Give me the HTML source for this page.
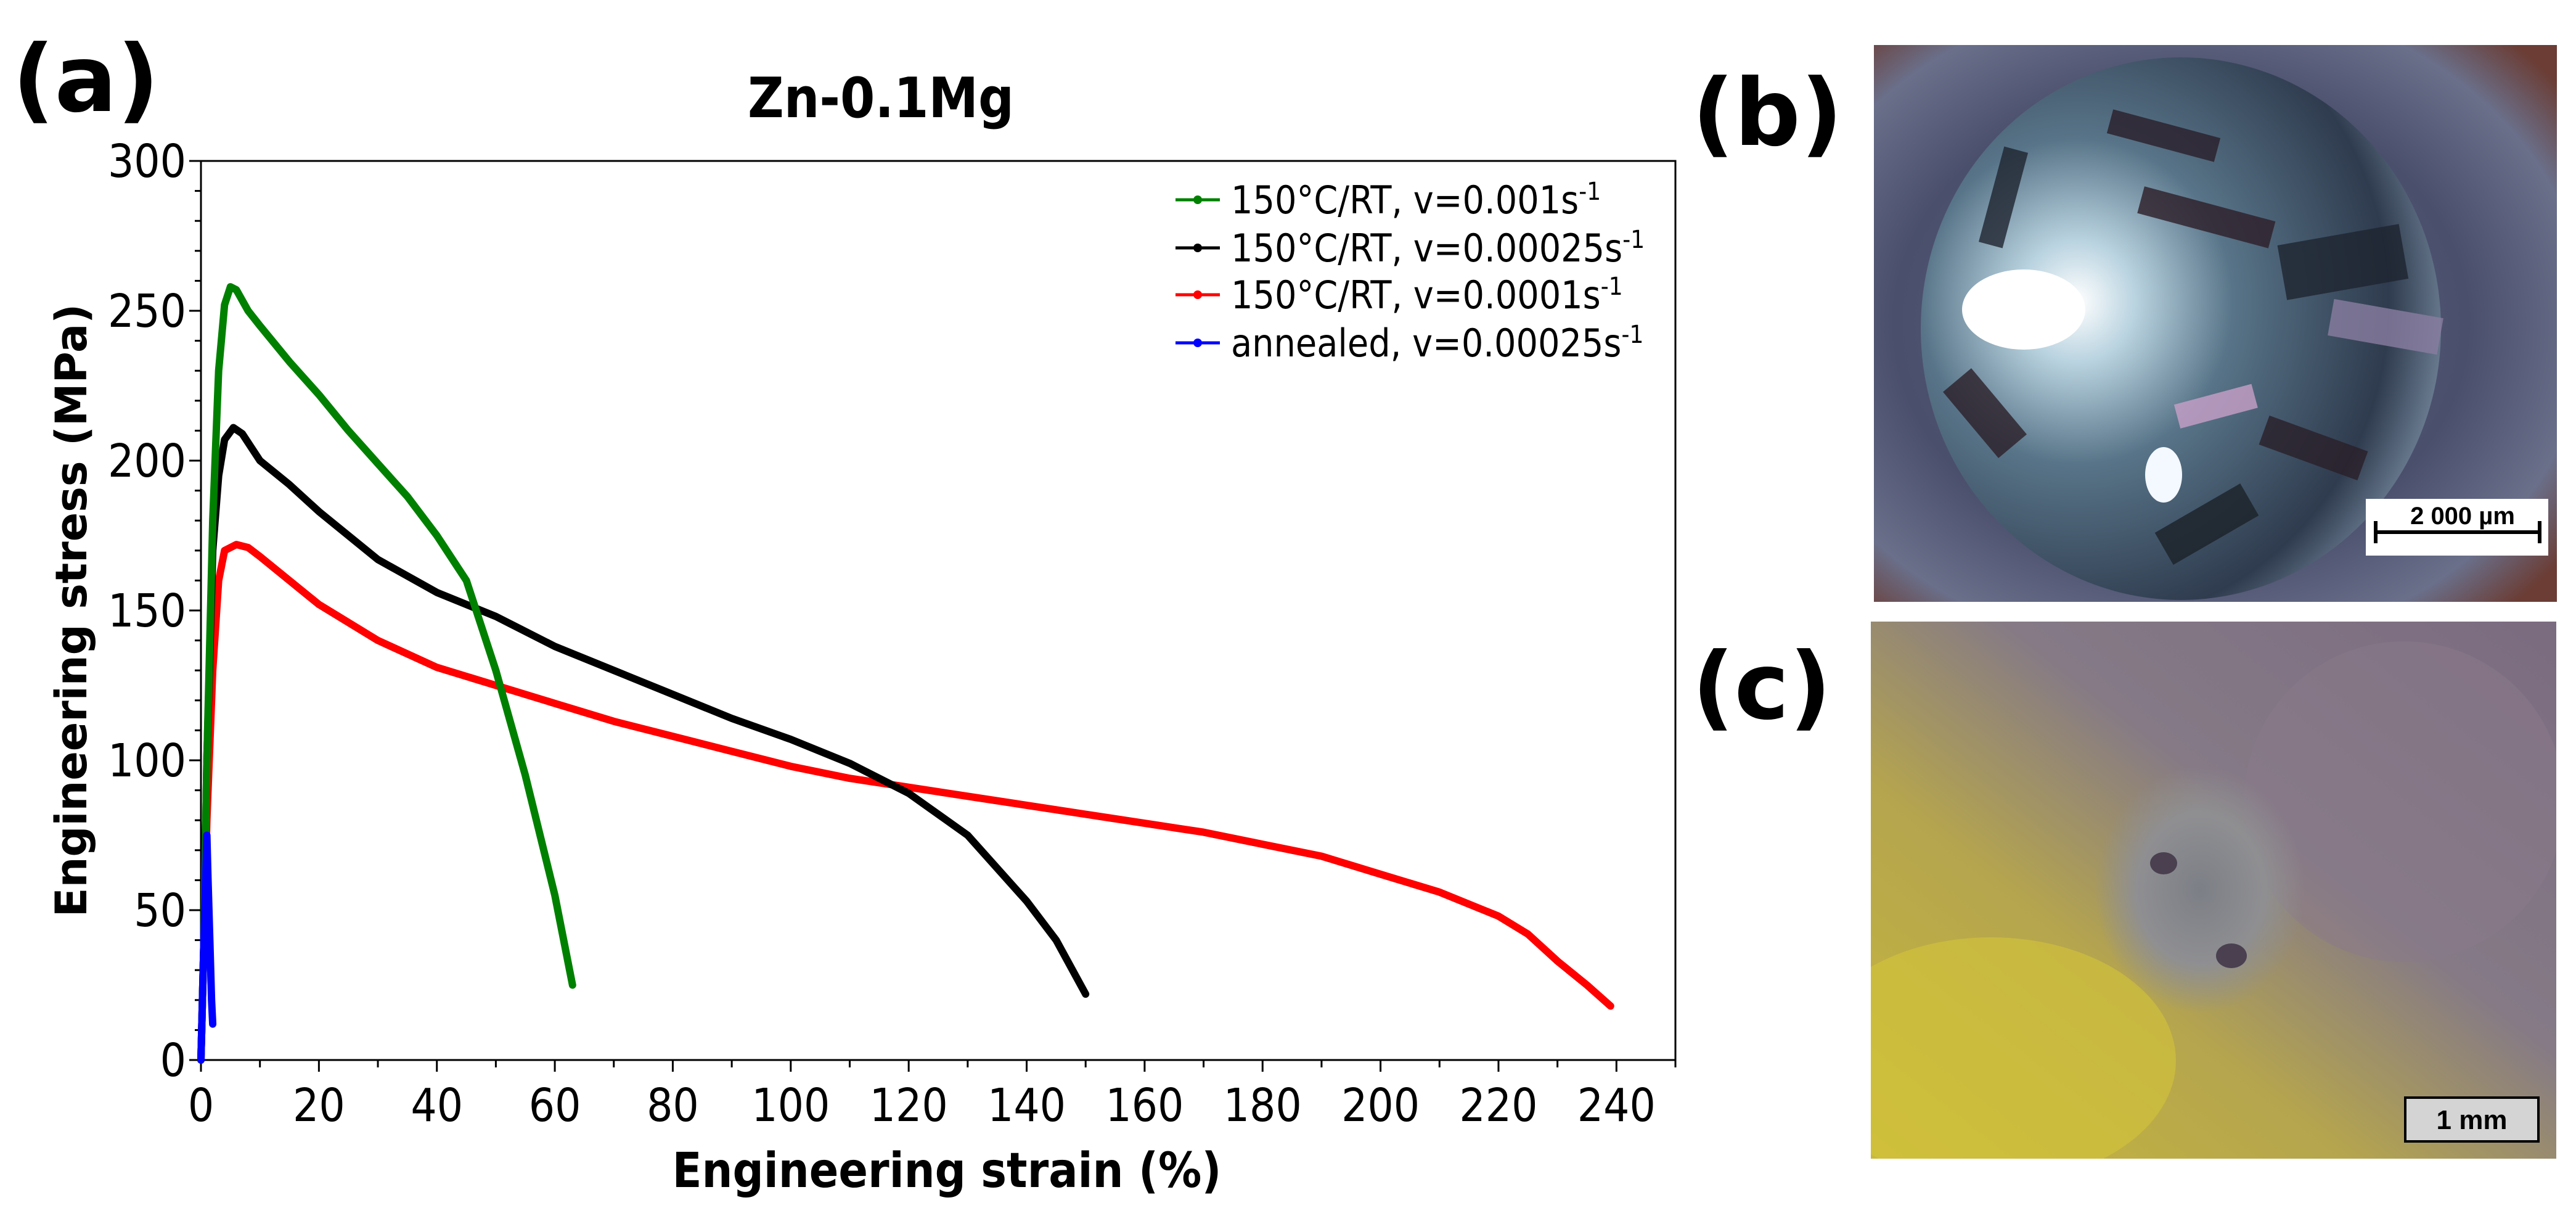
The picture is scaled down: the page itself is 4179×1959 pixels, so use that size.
<!DOCTYPE html>
<html><head><meta charset="utf-8">
<style>
html,body{margin:0;padding:0;background:#fff;}
body{width:4179px;height:1959px;position:relative;overflow:hidden;font-family:"Liberation Sans",sans-serif;}
svg{position:absolute;left:0;top:0;}
</style></head>
<body>
<svg id="fig" width="4179" height="1959" viewBox="0 0 4179 1959">
  <defs>
    <radialGradient id="bgB" cx="0.45" cy="0.5" r="0.7">
      <stop offset="0" stop-color="#5d6580"/>
      <stop offset="0.6" stop-color="#4a4f6c"/>
      <stop offset="0.85" stop-color="#6a6f8a"/>
      <stop offset="1" stop-color="#6b3d35"/>
    </radialGradient>
    <radialGradient id="discB" cx="0.3" cy="0.45" r="0.75">
      <stop offset="0" stop-color="#ffffff"/>
      <stop offset="0.15" stop-color="#b9d3e0"/>
      <stop offset="0.4" stop-color="#587488"/>
      <stop offset="0.8" stop-color="#2f3b4e"/>
      <stop offset="1" stop-color="#7f92a8"/>
    </radialGradient>
    <linearGradient id="bgC" x1="0" y1="1" x2="1" y2="0">
      <stop offset="0" stop-color="#c8b83a"/>
      <stop offset="0.35" stop-color="#b5a54e"/>
      <stop offset="0.6" stop-color="#857a86"/>
      <stop offset="1" stop-color="#7b6b80"/>
    </linearGradient>
    <radialGradient id="holeC" cx="0.5" cy="0.5" r="0.5">
      <stop offset="0" stop-color="#7c7f86"/>
      <stop offset="0.6" stop-color="#8f8f92"/>
      <stop offset="1" stop-color="#8f8f92" stop-opacity="0"/>
    </radialGradient>
    <clipPath id="clipC"><rect x="3035" y="1008" width="1112" height="871"/></clipPath>
    <clipPath id="clipB"><rect x="3040" y="73" width="1108" height="903"/></clipPath>
  </defs>
  <g id="chart"></g>

  <!-- panel b -->
  <text x="2745" y="235" font-size="150" font-weight="bold" font-family="DejaVu Sans, sans-serif">(b)</text>
  <g clip-path="url(#clipB)">
    <rect x="3040" y="73" width="1108" height="903" fill="url(#bgB)"/>
    <ellipse cx="3538" cy="533" rx="422" ry="440" fill="url(#discB)"/>
    <g opacity="0.8">
      <rect x="3420" y="200" width="180" height="40" fill="#2a1e2a" transform="rotate(15 3510 220)"/>
      <rect x="3470" y="330" width="220" height="45" fill="#2d1f28" transform="rotate(15 3580 350)"/>
      <rect x="3700" y="380" width="200" height="90" fill="#1e2530" transform="rotate(-10 3800 420)"/>
      <rect x="3780" y="500" width="180" height="60" fill="#8a7ea0" transform="rotate(10 3870 530)"/>
      <rect x="3150" y="640" width="140" height="60" fill="#2c2028" transform="rotate(50 3220 670)"/>
      <rect x="3670" y="700" width="170" height="50" fill="#2a2028" transform="rotate(20 3750 720)"/>
      <rect x="3500" y="820" width="160" height="60" fill="#1c2228" transform="rotate(-30 3580 850)"/>
      <rect x="3230" y="240" width="40" height="160" fill="#202530" transform="rotate(15 3250 320)"/>
      <rect x="3530" y="640" width="130" height="40" fill="#c9a0c8" transform="rotate(-15 3590 660)"/>
    </g>
    <ellipse cx="3283" cy="502" rx="100" ry="65" fill="#ffffff"/>
    <ellipse cx="3510" cy="770" rx="30" ry="45" fill="#f4f8ff"/>
    <rect x="3838" y="809" width="296" height="92" fill="#fff"/>
    <text x="3995" y="850" font-size="40" font-weight="bold" text-anchor="middle">2 000 µm</text>
    <path d="M3854 863 H4120 M3854 845 V881 M4120 845 V881" stroke="#000" stroke-width="6" fill="none"/>
  </g>

  <!-- panel c -->
  <text x="2745" y="1165" font-size="150" font-weight="bold" font-family="DejaVu Sans, sans-serif">(c)</text>
  <g clip-path="url(#clipC)">
    <rect x="3035" y="1008" width="1112" height="871" fill="url(#bgC)"/>
    <ellipse cx="3230" cy="1720" rx="300" ry="200" fill="#d4c43a" opacity="0.6"/>
    <ellipse cx="3900" cy="1300" rx="260" ry="260" fill="#8a7a8a" opacity="0.5"/>
    <ellipse cx="3569" cy="1443" rx="170" ry="200" fill="url(#holeC)"/>
    <ellipse cx="3510" cy="1400" rx="22" ry="18" fill="#4a4050"/>
    <ellipse cx="3620" cy="1550" rx="25" ry="20" fill="#4a4050"/>
    <rect x="3902" y="1780" width="216" height="71" fill="#d4d4d4" stroke="#000" stroke-width="4"/>
    <text x="4010" y="1831" font-size="44" font-weight="bold" text-anchor="middle">1 mm</text>
  </g>
</svg>
<script>
// ---- data ----
const xTicks = [0,20,40,60,80,100,120,140,160,180,200,220,240];
const yTicks = [0,50,100,150,200,250,300];
const seriesNames = ["150°C/RT, v=0.001s", "150°C/RT, v=0.00025s", "150°C/RT, v=0.0001s", "annealed, v=0.00025s"];
const greenX = [0,0.5,1,2,3,4,5,6,8,10,15,20,25,30,35,40,45,50,55,60,63];
const greenY = [0,40,100,180,230,252,258,257,250,245,233,222,210,199,188,175,160,130,95,55,25];
const blackX = [0,0.5,1,2,3,4,5.5,7,10,15,20,30,40,50,60,70,80,90,100,110,120,130,140,145,150];
const blackY = [0,40,100,170,195,207,211,209,200,192,183,167,156,148,138,130,122,114,107,99,89,75,53,40,22];
const redX = [0,0.5,1,2,3,4,6,8,10,20,30,40,50,60,70,80,90,100,110,120,130,140,150,160,170,180,190,200,210,220,225,230,235,239];
const redY = [0,40,80,130,160,170,172,171,168,152,140,131,125,119,113,108,103,98,94,91,88,85,82,79,76,72,68,62,56,48,42,33,25,18];
const blueX = [0,0.5,1,1.2,1.5,1.8,2];
const blueY = [0,40,75,60,40,20,12];

// ---- scales ----
const X0=326, X1=2718, Y0=1719, Y1=261, XMAX=250, YMAX=300;
const sx = v => X0 + v/XMAX*(X1-X0);
const sy = v => Y0 - v/YMAX*(Y0-Y1);
const NS="http://www.w3.org/2000/svg";
const g=document.getElementById('chart');
function mk(tag, attrs, parent){const e=document.createElementNS(NS,tag);for(const k in attrs)e.setAttribute(k,attrs[k]);(parent||g).appendChild(e);return e;}
const tickFont='"Liberation Sans Narrow","DejaVu Sans Condensed","Liberation Sans",sans-serif';

let t=mk('text',{x:20,y:180,'font-size':150,'font-weight':'bold','font-family':'DejaVu Sans, sans-serif'});
t.textContent='(a)';


t=mk('text',{x:1429,y:190,'font-size':90,'font-weight':'bold','text-anchor':'middle','font-family':'"DejaVu Sans Condensed","Liberation Sans",sans-serif'});
t.textContent='Zn-0.1Mg';



let fr=mk('rect',{x:X0,y:Y1,width:X1-X0,height:Y0-Y1,fill:'none',stroke:'#000','stroke-width':3});



for(let v=0; v<=XMAX; v+=10){
  const major = v%20===0;
  const l=mk('line',{x1:sx(v),x2:sx(v),y1:Y0,y2:Y0+(major?19:12),stroke:'#000','stroke-width':3});
  
  
}
xTicks.forEach(v=>{
  const e=mk('text',{x:sx(v),y:1818,'font-size':74,'text-anchor':'middle','font-family':tickFont});
  e.textContent=v;
  
  
});
for(let v=0; v<=YMAX; v+=10){
  const major = v%50===0;
  const l=mk('line',{x1:X0-(major?19:10),x2:X0,y1:sy(v),y2:sy(v),stroke:'#000','stroke-width':3});
  
  
}
yTicks.forEach(v=>{
  const e=mk('text',{x:X0-24,y:sy(v)+26,'font-size':74,'text-anchor':'end','font-family':tickFont});
  e.textContent=v;
  
  
});
t=mk('text',{x:1536,y:1925,'font-size':78,'font-weight':'bold','text-anchor':'middle','font-family':'"DejaVu Sans Condensed","Liberation Sans",sans-serif'});
t.textContent='Engineering strain (%)';


t=mk('text',{x:0,y:0,'font-size':70,'font-weight':'bold','text-anchor':'middle','font-family':'DejaVu Sans, sans-serif',transform:'translate(140 990) rotate(-90)'});
t.textContent='Engineering stress (MPa)';



const series=[
  {xs:greenX,ys:greenY,c:'#008000',n:'series-green'},
  {xs:blackX,ys:blackY,c:'#000000',n:'series-black'},
  {xs:redX,ys:redY,c:'#ff0000',n:'series-red'},
  {xs:blueX,ys:blueY,c:'#0000ff',n:'series-blue'}
];
const order=[2,1,0,3];
order.forEach(i=>{
  const s=series[i];
  const d=s.xs.map((x,k)=>(k?'L':'M')+sx(x).toFixed(1)+' '+sy(s.ys[k]).toFixed(1)).join(' ');
  const p=mk('path',{d:d,fill:'none',stroke:s.c,'stroke-width':12,'stroke-linejoin':'round','stroke-linecap':'round'});
  
  
});

const legY=[324,402,478,556];
const legCol=['#008000','#000000','#ff0000','#0000ff'];
seriesNames.forEach((nm,i)=>{
  const lg=mk('g',{});
  
  
  mk('line',{x1:1907,x2:1979,y1:legY[i],y2:legY[i],stroke:legCol[i],'stroke-width':5},lg);
  mk('circle',{cx:1943,cy:legY[i],r:7,fill:legCol[i]},lg);
  const e=mk('text',{x:1997,y:legY[i]+22,'font-size':62,'font-family':tickFont},lg);
  e.textContent=nm;
  const sup=mk('tspan',{dy:-22,'font-size':40},e);
  sup.textContent='-1';
});
</script>
</body></html>
